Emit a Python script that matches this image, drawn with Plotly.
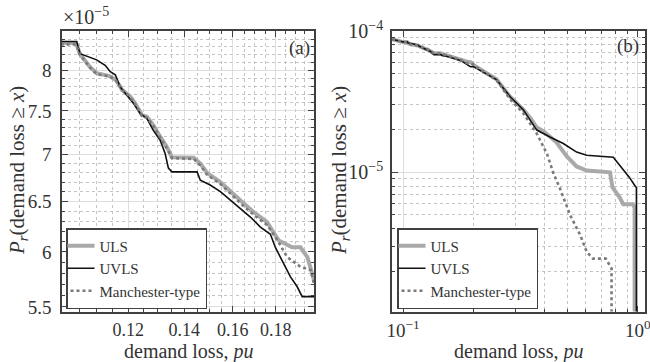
import numpy as np
import plotly.graph_objects as go

# ---------------- data (demand loss in pu, P_r in units of 1e-5) ----------------
uls_x = [0.090, 0.100, 0.104, 0.105, 0.108, 0.110, 0.114, 0.116, 0.118, 0.1207, 0.1223,
         0.1246, 0.1263, 0.1286, 0.131, 0.1334, 0.1353, 0.1437, 0.1463, 0.149, 0.1546,
         0.1589, 0.1619, 0.1648, 0.1702, 0.1758, 0.1782, 0.1815, 0.1883, 0.1927, 0.1964,
         0.200, 0.25, 0.285, 0.305, 0.325, 0.35, 0.37, 0.397, 0.42, 0.45, 0.497, 0.548,
         0.605, 0.76, 0.78, 0.838, 0.866, 0.953, 0.968, 0.968]
uls_p = [8.75, 8.35, 8.35, 8.21, 8.04, 7.96, 7.925, 7.875, 7.75, 7.67, 7.59,
         7.45, 7.43, 7.33, 7.20, 7.085, 6.97, 6.965, 6.90, 6.80, 6.70,
         6.61, 6.55, 6.48, 6.376, 6.29, 6.21, 6.11, 6.044, 6.044, 5.95,
         5.74, 4.55, 3.44, 3.09, 2.78, 2.40, 2.08, 1.95, 1.80, 1.63, 1.30, 1.10,
         1.03, 1.00, 0.78, 0.66, 0.594, 0.594, 0.56, 0.05]

uvls_x = [0.090, 0.100, 0.1041, 0.1051, 0.110, 0.1126, 0.1142, 0.1158, 0.1173, 0.1201,
          0.1217, 0.124, 0.1263, 0.1285, 0.131, 0.1328, 0.134, 0.1353, 0.1450, 0.1463,
          0.1503, 0.1546, 0.1589, 0.1633, 0.1679, 0.1726, 0.1774, 0.1799, 0.184, 0.1874,
          0.1909, 0.1936, 0.200, 0.25, 0.285, 0.305, 0.325, 0.347, 0.371, 0.422, 0.481,
          0.548, 0.605, 0.785, 0.838, 0.895, 0.92, 0.971, 0.985, 0.985]
uvls_p = [8.75, 8.37, 8.37, 8.21, 8.13, 8.06, 7.98, 7.94, 7.79, 7.67,
          7.59, 7.47, 7.41, 7.275, 7.16, 7.01, 6.85, 6.81, 6.81, 6.72,
          6.67, 6.60, 6.51, 6.43, 6.34, 6.24, 6.17, 6.04, 5.89, 5.77,
          5.68, 5.59, 5.59, 4.53, 3.44, 3.09, 2.77, 2.35, 1.99, 1.78, 1.60,
          1.39, 1.32, 1.28, 1.12, 0.974, 0.92, 0.804, 0.78, 0.05]

man_x = [0.090, 0.100, 0.104, 0.105, 0.108, 0.110, 0.114, 0.116, 0.118, 0.1207, 0.1223,
         0.1246, 0.1263, 0.1286, 0.131, 0.1334, 0.1353, 0.1437, 0.1463, 0.149, 0.1546,
         0.1589, 0.1619, 0.1648, 0.1702, 0.1758, 0.1782, 0.1815, 0.1858, 0.1927, 0.1982,
         0.200, 0.25, 0.285, 0.325, 0.371, 0.41, 0.4375, 0.4657, 0.515, 0.567, 0.605,
         0.644, 0.730, 0.772, 0.772]
man_p = [8.75, 8.33, 8.33, 8.20, 8.03, 7.95, 7.92, 7.87, 7.76, 7.66, 7.58,
         7.44, 7.42, 7.32, 7.19, 7.07, 6.96, 6.95, 6.88, 6.78, 6.68,
         6.58, 6.52, 6.45, 6.35, 6.26, 6.19, 6.09, 5.95, 5.86, 5.83,
         5.70, 4.50, 3.30, 2.62, 1.88, 1.35, 0.976, 0.768, 0.496, 0.362, 0.274,
         0.245, 0.245, 0.209, 0.05]

series = [
    ("ULS", uls_x, uls_p, dict(color="#a9a9a9", width=4)),
    ("UVLS", uvls_x, uvls_p, dict(color="#111111", width=1.6)),
    ("Manchester-type", man_x, man_p, dict(color="#7a7a7a", width=2.6, dash="dot")),
]

# left panel ticks
a_xticks = [0.12, 0.14, 0.16, 0.18]
a_xticktext = ["0.12", "0.14", "0.16", "0.18"]
a_yticks = [5.5, 6, 6.5, 7, 7.5, 8]
a_yticktext = ["5.5", "6", "6.5", "7", "7.5", "8"]
# right panel ticks
b_xticks = [0.1, 1.0]
b_xticktext = ["10<sup>−1</sup>", "10<sup>0</sup>"]
b_yticks = [1e-5, 1e-4]
b_yticktext = ["10<sup>−5</sup>", "10<sup>−4</sup>"]

SCALE = 1e-5
FONT = "Liberation Serif"
TXT = "#333333"
FRAME = "#404040"
GRID = "#dddddd"
MGRID = "#c4c4c4"

fig = go.Figure()
for name, xs, ps, ln in series:
    ys = [p * SCALE for p in ps]
    fig.add_trace(go.Scatter(x=xs, y=ys, mode="lines", name=name, line=ln,
                             xaxis="x", yaxis="y", legend="legend"))
for name, xs, ps, ln in series:
    ys = [p * SCALE for p in ps]
    fig.add_trace(go.Scatter(x=xs, y=ys, mode="lines", name=name, line=ln,
                             xaxis="x2", yaxis="y2", legend="legend2"))

W, H = 650, 362
top, bot = 31, 311.5
ydom = [1 - bot / H, 1 - top / H]


def axcommon():
    return dict(type="log", showline=True, linecolor=FRAME, linewidth=1.5, mirror="ticks",
                ticks="inside", ticklen=6, tickwidth=1, tickcolor=FRAME,
                showgrid=True, gridcolor=GRID, gridwidth=1.3, zeroline=False,
                ticklabeloverflow="allow",
                tickfont=dict(family=FONT, size=19, color=TXT))


a_xminor = [v / 1000 for v in range(105, 200, 5) if v % 20 != 0]
a_yminor = [v / 10 * SCALE for v in range(55, 86) if v % 5 != 0]
b_xminor = [0.09] + [v / 10 for v in range(2, 10)]
b_yminor = [k * 1e-6 for k in range(2, 10)] + [k * 1e-5 for k in range(2, 10)]

minor_style = dict(ticks="inside", ticklen=3, tickcolor=FRAME, showgrid=True,
                   gridcolor=MGRID, griddash="dot", gridwidth=1)

xa = axcommon()
xa.update(domain=[62 / W, 314 / W], anchor="y", range=[np.log10(0.1), np.log10(0.2)],
          tickmode="array", tickvals=a_xticks, ticktext=a_xticktext,
          minor=dict(tickmode="array", tickvals=a_xminor, **minor_style),
          tickfont=dict(family=FONT, size=18, color=TXT), ticklabelstandoff=1)
ya = axcommon()
ya.update(domain=ydom, anchor="x", range=[np.log10(5.46e-5), np.log10(8.51e-5)],
          tickmode="array", tickvals=[v * SCALE for v in a_yticks], ticktext=a_yticktext,
          minor=dict(tickmode="array", tickvals=a_yminor, **minor_style),
          ticklabelstandoff=5)

xb = axcommon()
xb.update(domain=[392 / W, 645 / W], anchor="y2", range=[-1.047, 0.03],
          tickmode="array", tickvals=b_xticks, ticktext=b_xticktext,
          minor=dict(tickmode="array", tickvals=b_xminor, **minor_style),
          ticklabelstandoff=1)
yb = axcommon()
yb.update(domain=ydom, anchor="x2", range=[-5.985, -4.0],
          tickmode="array", tickvals=b_yticks, ticktext=b_yticktext,
          minor=dict(tickmode="array", tickvals=b_yminor, **minor_style),
          tickfont=dict(family=FONT, size=20, color=TXT),
          ticklabelstandoff=3)

legend_style = dict(xanchor="left", yanchor="bottom", bgcolor="white", bordercolor=FRAME,
                    borderwidth=1.5, font=dict(family=FONT, size=15, color=TXT),
                    tracegroupgap=0, itemwidth=30, indentation=-8)

ytitle = "<i>P</i><sub><i>r</i></sub>(demand loss ≥ <i>x</i>)"
xtitle = "demand loss, <i>pu</i>"
ann_font = dict(family=FONT, size=21, color=TXT)
xt_font = dict(family=FONT, size=20, color=TXT)
fig.update_layout(
    width=W, height=H, margin=dict(l=0, r=0, t=0, b=0), autosize=False,
    template="none", paper_bgcolor="white", plot_bgcolor="white",
    xaxis=xa, yaxis=ya, xaxis2=xb, yaxis2=yb,
    legend=dict(x=66 / W, y=1 - 309 / H, **legend_style),
    legend2=dict(x=397 / W, y=1 - 309 / H, **legend_style),
    font=dict(family=FONT, color=TXT),
    annotations=[
        dict(text=ytitle, x=18 / W, y=1 - 171 / H, xref="paper", yref="paper",
             xanchor="center", yanchor="middle", textangle=-90, showarrow=False, font=ann_font),
        dict(text=ytitle, x=340 / W, y=1 - 171 / H, xref="paper", yref="paper",
             xanchor="center", yanchor="middle", textangle=-90, showarrow=False, font=ann_font),
        dict(text=xtitle, x=188 / W, y=1 - 351 / H, xref="paper", yref="paper",
             xanchor="center", yanchor="middle", showarrow=False, font=xt_font),
        dict(text=xtitle, x=518 / W, y=1 - 351 / H, xref="paper", yref="paper",
             xanchor="center", yanchor="middle", showarrow=False, font=xt_font),
        dict(text="(a)", x=312 / W, y=1 - 48 / H, xref="paper", yref="paper",
             xanchor="right", yanchor="middle", showarrow=False,
             font=dict(family=FONT, size=19, color=TXT)),
        dict(text="(b)", x=641 / W, y=1 - 46 / H, xref="paper", yref="paper",
             xanchor="right", yanchor="middle", showarrow=False,
             font=dict(family=FONT, size=19, color=TXT)),
        dict(text="×10<sup>−5</sup>", x=61 / W, y=1 - 16 / H, xref="paper", yref="paper",
             xanchor="left", yanchor="middle", showarrow=False,
             font=dict(family=FONT, size=20, color=TXT)),
    ],
)

fig.write_html("out.html")
